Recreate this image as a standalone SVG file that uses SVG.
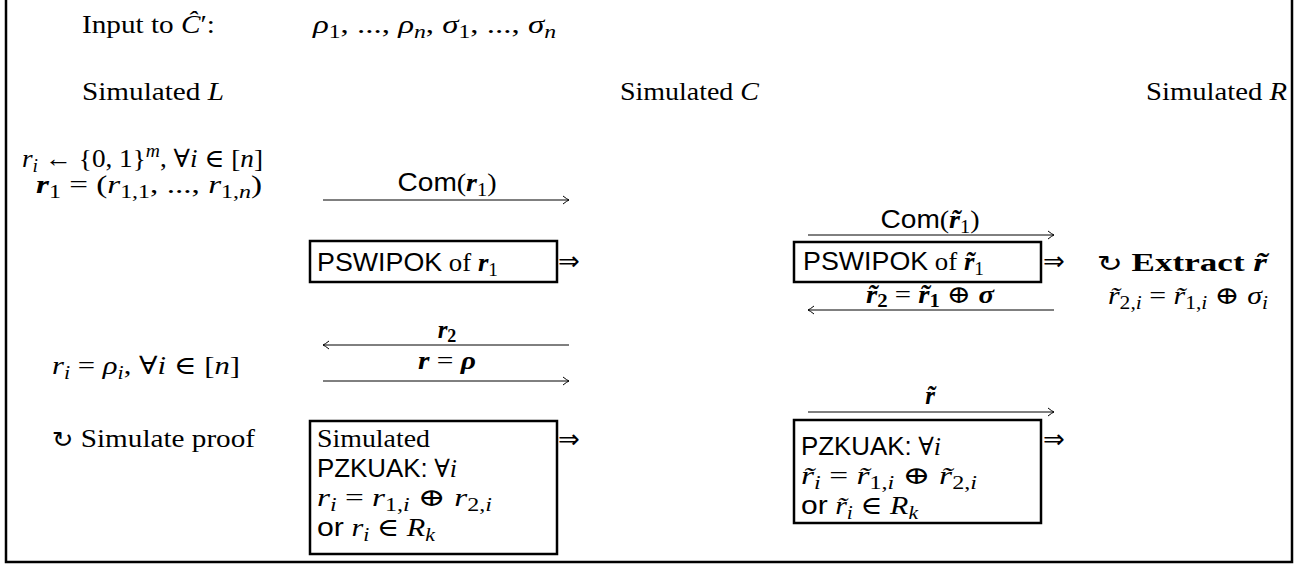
<svg xmlns="http://www.w3.org/2000/svg" width="1303" height="564" viewBox="0 0 1303 564">
<style>
.rm{font-family:"Liberation Serif","DejaVu Serif",serif;font-size:25px;fill:#000}
.sf{font-family:"Liberation Sans","DejaVu Sans",sans-serif}
.it{font-style:italic}
.bi{font-style:italic;font-weight:bold}
.bd{font-weight:bold}
.sb{font-size:18px}
.sym{font-family:"DejaVu Sans",sans-serif;font-size:26px;font-weight:normal}
.circ{font-family:"DejaVu Sans",sans-serif;font-size:22px;font-weight:normal}
.box{fill:#fff;stroke:#000;stroke-width:2.5}
.frame{fill:none;stroke:#000;stroke-width:2.5}
.arr{stroke:#000;stroke-width:1;fill:none}
</style>
<defs>
<marker id="ah" markerUnits="userSpaceOnUse" markerWidth="12" markerHeight="12" refX="0" refY="0" viewBox="-8 -6 10 12" orient="auto-start-reverse">
<path d="M-6,-4 Q-2,-0.8 0,0 Q-2,0.8 -6,4" fill="none" stroke="#000" stroke-width="1"/>
</marker>
</defs>
<rect width="1303" height="564" fill="#fff"/>
<path class="frame" d="M6,0 V562 H1292 V0"/>

<g id="connectors">
<line class="arr" x1="323" y1="200" x2="569" y2="200" marker-end="url(#ah)"/>
<line class="arr" x1="808" y1="235" x2="1054" y2="235" marker-end="url(#ah)"/>
<line class="arr" x1="808" y1="310" x2="1054" y2="310" marker-start="url(#ah)"/>
<line class="arr" x1="323" y1="345" x2="569" y2="345" marker-start="url(#ah)"/>
<line class="arr" x1="323" y1="381" x2="569" y2="381" marker-end="url(#ah)"/>
<line class="arr" x1="808" y1="412" x2="1054" y2="412" marker-end="url(#ah)"/>
<text class="rm" x="447" y="191" text-anchor="middle" textLength="99" lengthAdjust="spacingAndGlyphs"><tspan class="sf">Com</tspan>(<tspan class="bi">r</tspan><tspan class="sb" dy="5">1</tspan><tspan dy="-5">)</tspan></text>
<text class="rm" x="930" y="228" text-anchor="middle" textLength="99" lengthAdjust="spacingAndGlyphs"><tspan class="sf">Com</tspan>(<tspan class="bi">r̃</tspan><tspan class="sb" dy="5">1</tspan><tspan dy="-5">)</tspan></text>
<text class="rm" x="930" y="303" text-anchor="middle" textLength="128" lengthAdjust="spacingAndGlyphs"><tspan class="bi">r̃</tspan><tspan class="sb bd" dy="4">2</tspan><tspan dy="-4"> = </tspan><tspan class="bi">r̃</tspan><tspan class="sb bd" dy="4">1</tspan><tspan dy="-4"> ⊕ </tspan><tspan class="bi">σ</tspan></text>
<text class="rm" x="447" y="338" text-anchor="middle"><tspan class="bi">r</tspan><tspan class="sb bd" dy="4">2</tspan></text>
<text class="rm" x="447" y="369" text-anchor="middle" textLength="58" lengthAdjust="spacingAndGlyphs"><tspan class="bi">r</tspan> = <tspan class="bi">ρ</tspan></text>
<text class="rm" x="930" y="404" text-anchor="middle"><tspan class="bi">r̃</tspan></text>
</g>

<g id="header">
<text class="rm" x="82" y="33" textLength="133" lengthAdjust="spacingAndGlyphs">Input to <tspan class="it">Ĉ</tspan>′:</text>
<text class="rm" x="313" y="33" textLength="243" lengthAdjust="spacingAndGlyphs"><tspan class="it">ρ</tspan><tspan class="sb" dy="5">1</tspan><tspan dy="-5">, ..., </tspan><tspan class="it">ρ</tspan><tspan class="sb it" dy="5">n</tspan><tspan dy="-5">, </tspan><tspan class="it">σ</tspan><tspan class="sb" dy="5">1</tspan><tspan dy="-5">, ..., </tspan><tspan class="it">σ</tspan><tspan class="sb it" dy="5">n</tspan></text>
</g>

<g id="simL"><text class="rm" x="82" y="100" textLength="142" lengthAdjust="spacingAndGlyphs">Simulated <tspan class="it">L</tspan></text></g>
<g id="simC"><text class="rm" x="620" y="100" textLength="139" lengthAdjust="spacingAndGlyphs">Simulated <tspan class="it">C</tspan></text></g>
<g id="simR"><text class="rm" x="1146" y="100" textLength="141" lengthAdjust="spacingAndGlyphs">Simulated <tspan class="it">R</tspan></text></g>

<g id="L-init">
<text class="rm" x="22" y="167" textLength="241" lengthAdjust="spacingAndGlyphs"><tspan class="it">r</tspan><tspan class="sb it" dy="5">i</tspan><tspan dy="-5"> ← {0, 1}</tspan><tspan class="sb it" dy="-10">m</tspan><tspan dy="10">, ∀</tspan><tspan class="it">i</tspan> ∈ [<tspan class="it">n</tspan>]</text>
<text class="rm" x="36" y="193" textLength="226" lengthAdjust="spacingAndGlyphs"><tspan class="bi">r</tspan><tspan class="sb" dy="5">1</tspan><tspan dy="-5"> = (</tspan><tspan class="it">r</tspan><tspan class="sb" dy="5">1,1</tspan><tspan dy="-5">, ..., </tspan><tspan class="it">r</tspan><tspan class="sb" dy="5">1,<tspan class="it">n</tspan></tspan><tspan dy="-5">)</tspan></text>
</g>

<g id="L-pswipok">
<rect class="box" x="310" y="241" width="247" height="41"/>
<text class="rm" x="317" y="271" textLength="181" lengthAdjust="spacingAndGlyphs"><tspan class="sf">PSWIPOK</tspan> of <tspan class="bi">r</tspan><tspan class="sb" dy="5">1</tspan></text>
<text class="sym" x="558" y="270">⇒</text>
</g>

<g id="R-pswipok">
<rect class="box" x="794" y="242" width="247" height="40"/>
<text class="rm" x="803" y="270" textLength="181" lengthAdjust="spacingAndGlyphs"><tspan class="sf">PSWIPOK</tspan> of <tspan class="bi">r̃</tspan><tspan class="sb" dy="5">1</tspan></text>
<text class="sym" x="1043" y="270">⇒</text>
</g>

<g id="R-extract">
<text class="rm" x="1097" y="271" textLength="170" lengthAdjust="spacingAndGlyphs"><tspan class="circ">↻</tspan> <tspan class="bd">Extract</tspan> <tspan class="bi">r̃</tspan></text>
<text class="rm" x="1108" y="304" textLength="160" lengthAdjust="spacingAndGlyphs"><tspan class="it">r̃</tspan><tspan class="sb" dy="5">2,<tspan class="it">i</tspan></tspan><tspan dy="-5"> = </tspan><tspan class="it">r̃</tspan><tspan class="sb" dy="5">1,<tspan class="it">i</tspan></tspan><tspan dy="-5"> ⊕ </tspan><tspan class="it">σ</tspan><tspan class="sb it" dy="5">i</tspan></text>
</g>

<g id="L-set">
<text class="rm" x="52" y="374" textLength="188" lengthAdjust="spacingAndGlyphs"><tspan class="it">r</tspan><tspan class="sb it" dy="5">i</tspan><tspan dy="-5"> = </tspan><tspan class="it">ρ</tspan><tspan class="sb it" dy="5">i</tspan><tspan dy="-5">, ∀</tspan><tspan class="it">i</tspan> ∈ [<tspan class="it">n</tspan>]</text>
</g>

<g id="L-simulate">
<text class="rm" x="52" y="447" textLength="203" lengthAdjust="spacingAndGlyphs"><tspan class="circ">↻</tspan> Simulate proof</text>
</g>

<g id="L-pzkuak">
<rect class="box" x="310" y="421" width="247" height="133"/>
<text class="rm" x="317" y="447" textLength="113" lengthAdjust="spacingAndGlyphs">Simulated</text>
<text class="rm" x="317" y="477" textLength="140" lengthAdjust="spacingAndGlyphs"><tspan class="sf">PZKUAK:</tspan> ∀<tspan class="it">i</tspan></text>
<text class="rm" x="317" y="506" textLength="175" lengthAdjust="spacingAndGlyphs"><tspan class="it">r</tspan><tspan class="sb it" dy="5">i</tspan><tspan dy="-5"> = </tspan><tspan class="it">r</tspan><tspan class="sb" dy="5">1,<tspan class="it">i</tspan></tspan><tspan dy="-5"> ⊕ </tspan><tspan class="it">r</tspan><tspan class="sb" dy="5">2,<tspan class="it">i</tspan></tspan></text>
<text class="rm" x="317" y="536" textLength="118" lengthAdjust="spacingAndGlyphs"><tspan class="sf">or</tspan> <tspan class="it">r</tspan><tspan class="sb it" dy="5">i</tspan><tspan dy="-5"> ∈ </tspan><tspan class="it">R</tspan><tspan class="sb it" dy="5">k</tspan></text>
<text class="sym" x="558" y="448">⇒</text>
</g>

<g id="R-pzkuak">
<rect class="box" x="794" y="420" width="247" height="103"/>
<text class="rm" x="801" y="455" textLength="140" lengthAdjust="spacingAndGlyphs"><tspan class="sf">PZKUAK:</tspan> ∀<tspan class="it">i</tspan></text>
<text class="rm" x="801" y="484" textLength="176" lengthAdjust="spacingAndGlyphs"><tspan class="it">r̃</tspan><tspan class="sb it" dy="5">i</tspan><tspan dy="-5"> = </tspan><tspan class="it">r̃</tspan><tspan class="sb" dy="5">1,<tspan class="it">i</tspan></tspan><tspan dy="-5"> ⊕ </tspan><tspan class="it">r̃</tspan><tspan class="sb" dy="5">2,<tspan class="it">i</tspan></tspan></text>
<text class="rm" x="801" y="514" textLength="117" lengthAdjust="spacingAndGlyphs"><tspan class="sf">or</tspan> <tspan class="it">r̃</tspan><tspan class="sb it" dy="5">i</tspan><tspan dy="-5"> ∈ </tspan><tspan class="it">R</tspan><tspan class="sb it" dy="5">k</tspan></text>
<text class="sym" x="1043" y="448">⇒</text>
</g>
</svg>
